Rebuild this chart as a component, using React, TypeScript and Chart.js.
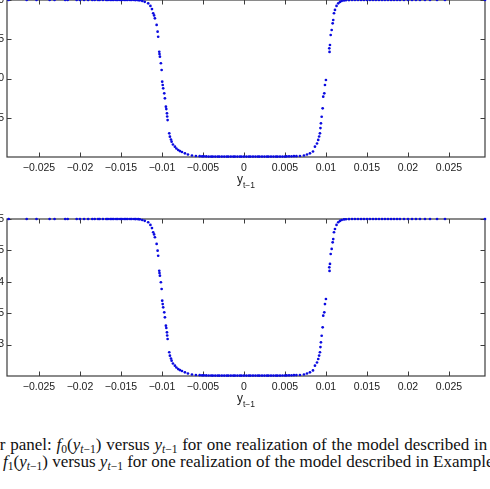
import React, { useEffect, useRef } from "react";
import { Chart, registerables } from "chart.js";

Chart.register(...registerables);

// y_{t-1} values (one realization, shared by both panels)
const yLag = [
  -0.0287, -0.0265, -0.0253, -0.0237, -0.0231, -0.0218, -0.0215, -0.0204, -0.02, -0.0195,
  -0.019, -0.0185, -0.0182, -0.0178, -0.0176, -0.0172, -0.0168, -0.0166, -0.0163, -0.0161,
  -0.0159, -0.0156, -0.0154, -0.0151, -0.0149, -0.0146, -0.0144, -0.0142, -0.0139, -0.0137,
  -0.0134, -0.0132, -0.0129, -0.0127,
  -0.0124, -0.0121, -0.01168, -0.01141, -0.01122, -0.01107, -0.01096, -0.01086, -0.01065, -0.01053,
  -0.01046, -0.01033, -0.0103, -0.01025, -0.01013, -0.01004, -0.00997, -0.00991, -0.00985, -0.00972,
  -0.00964, -0.00952, -0.00947, -0.00939, -0.00936, -0.00931, -0.00911, -0.00903, -0.0089, -0.00882,
  -0.00866, -0.00842, -0.00824, -0.00802, -0.00781, -0.00756, -0.0072, -0.00683, -0.00634, -0.00586,
  -0.0054, -0.0051, -0.0049, -0.0046, -0.0043, -0.004, -0.0038, -0.0035, -0.0032, -0.003,
  -0.0027, -0.0024, -0.0021, -0.0019, -0.0016, -0.0013, -0.0011, -0.0008, -0.0005, -0.0003,
  0.0, 0.0003, 0.0006, 0.0008, 0.0011, 0.0014, 0.0017, 0.0019, 0.0022, 0.0025,
  0.0028, 0.003, 0.0033, 0.0036, 0.0039, 0.0041, 0.0044, 0.0047, 0.005, 0.0052,
  0.0055, 0.0058, 0.0061, 0.0064,
  0.00683, 0.00732, 0.00769, 0.00805, 0.00842, 0.00866, 0.00891, 0.00906, 0.00917, 0.00927,
  0.00933, 0.00939, 0.00948, 0.0096, 0.00967, 0.0098, 0.00988, 0.01, 0.01041, 0.01044,
  0.01049, 0.01058, 0.0107, 0.01082, 0.01089, 0.01098, 0.0111, 0.01129, 0.0115, 0.01171,
  0.01192, 0.0122,
  0.01244, 0.01281, 0.01318, 0.01354, 0.01391, 0.01428, 0.01464, 0.01501, 0.01537, 0.01574,
  0.0161, 0.01647, 0.01684, 0.0172, 0.01757, 0.01794, 0.0183, 0.01867, 0.01903, 0.01952,
  0.02001, 0.0205, 0.02098, 0.02147, 0.02208, 0.02269, 0.02355, 0.02452, 0.0294,
];

// upper panel: f0(y_{t-1})
const f0Values = [
  20, 20, 20, 20, 20, 20, 20, 20, 20, 20,
  20, 20, 20, 20, 20, 20, 20, 20, 20, 20,
  20, 20, 20, 20, 20, 20, 20, 20, 20, 20,
  20, 19.99, 19.98, 19.96,
  19.87, 19.77, 19.58, 19.24, 18.85, 18.31, 18.03, 17.67, 16.82, 15.96,
  15.32, 13.41, 13.12, 12.78, 11.94, 11.08, 9.59, 9.17, 8.75, 8.11,
  7.48, 6.41, 6.11, 5.57, 5.16, 4.71, 3.02, 2.59, 2.23, 1.95,
  1.59, 1.31, 1.08, 0.89, 0.76, 0.64, 0.47, 0.32, 0.19, 0.13,
  0.1, 0.09, 0.08, 0.07, 0.06, 0.06, 0.05, 0.05, 0.05, 0.05,
  0.05, 0.05, 0.05, 0.05, 0.05, 0.05, 0.05, 0.05, 0.05, 0.05,
  0.05, 0.05, 0.05, 0.05, 0.05, 0.05, 0.05, 0.05, 0.05, 0.05,
  0.05, 0.05, 0.05, 0.05, 0.05, 0.05, 0.05, 0.06, 0.06, 0.07,
  0.08, 0.09, 0.1, 0.11,
  0.13, 0.19, 0.32, 0.47, 0.7, 1.31, 1.72, 2.17, 2.61, 3.02,
  3.69, 4.29, 5.13, 6.2, 7.68, 8.11, 9.17, 9.81, 13.85, 13.38,
  14.27, 15.54, 16.18, 17.03, 17.45, 18.31, 18.73, 19.24, 19.58, 19.75,
  19.87, 19.94,
  19.97, 19.99, 20, 20, 20, 20, 20, 20, 20, 20,
  20, 20, 20, 20, 20, 20, 20, 20, 20, 20,
  20, 20, 20, 20, 20, 20, 20, 20, 20,
];

// lower panel: f1(y_{t-1})
const f1Values = [
  0.5, 0.5, 0.5, 0.5, 0.5, 0.5, 0.5, 0.5, 0.5, 0.5,
  0.5, 0.5, 0.5, 0.5, 0.5, 0.5, 0.5, 0.5, 0.5, 0.5,
  0.5, 0.5, 0.5, 0.5, 0.5, 0.5, 0.5, 0.5, 0.5, 0.5,
  0.5, 0.4999, 0.4998, 0.4995,
  0.4984, 0.4971, 0.4948, 0.4905, 0.4856, 0.4789, 0.4754, 0.4709, 0.4603, 0.4495,
  0.4415, 0.4176, 0.414, 0.4098, 0.3993, 0.3885, 0.3699, 0.3646, 0.3594, 0.3514,
  0.3435, 0.3301, 0.3264, 0.3196, 0.3145, 0.3089, 0.2878, 0.2824, 0.2779, 0.2744,
  0.2699, 0.2664, 0.2635, 0.2611, 0.2595, 0.258, 0.2559, 0.254, 0.2524, 0.2516,
  0.2513, 0.2511, 0.251, 0.2509, 0.2508, 0.2508, 0.2506, 0.2506, 0.2506, 0.2506,
  0.2506, 0.2506, 0.2506, 0.2506, 0.2506, 0.2506, 0.2506, 0.2506, 0.2506, 0.2506,
  0.2506, 0.2506, 0.2506, 0.2506, 0.2506, 0.2506, 0.2506, 0.2506, 0.2506, 0.2506,
  0.2506, 0.2506, 0.2506, 0.2506, 0.2506, 0.2506, 0.2506, 0.2508, 0.2508, 0.2509,
  0.251, 0.2511, 0.2513, 0.2514,
  0.2516, 0.2524, 0.254, 0.2559, 0.2588, 0.2664, 0.2715, 0.2771, 0.2826, 0.2878,
  0.2961, 0.3036, 0.3141, 0.3275, 0.346, 0.3514, 0.3646, 0.3726, 0.4231, 0.4173,
  0.4284, 0.4443, 0.4523, 0.4629, 0.4681, 0.4789, 0.4841, 0.4905, 0.4948, 0.4969,
  0.4984, 0.4993,
  0.4996, 0.4999, 0.5, 0.5, 0.5, 0.5, 0.5, 0.5, 0.5, 0.5,
  0.5, 0.5, 0.5, 0.5, 0.5, 0.5, 0.5, 0.5, 0.5, 0.5,
  0.5, 0.5, 0.5, 0.5, 0.5, 0.5, 0.5, 0.5, 0.5,
];

const xTicks = [-0.025, -0.02, -0.015, -0.01, -0.005, 0, 0.005, 0.01, 0.015, 0.02, 0.025];
const xTickLabels = ["\u22120.025", "\u22120.02", "\u22120.015", "\u22120.01", "\u22120.005", "0", "0.005", "0.01", "0.015", "0.02", "0.025"];
const f0Ticks = [5, 10, 15, 20];
const f0TickLabels = ["5", "10", "15", "20"];
const f1Ticks = [0.3, 0.35, 0.4, 0.45, 0.5];
const f1TickLabels = ["0.3", "0.35", "0.4", "0.45", "0.5"];

const X_MIN = -0.0289;
const X_MAX = 0.0294;

const AXIS_COLOR = "#3c3c3c";
const TEXT_COLOR = "#222";
const DOT_COLOR = "#0a0ae0";
const TICK_FONT = "'Liberation Sans', Arial, sans-serif";

const labelFor = (ticks: number[], labels: string[]) => (v: any) => {
  const i = ticks.findIndex((t) => Math.abs(t - Number(v)) < 1e-9);
  return i >= 0 ? labels[i] : "";
};

const boxPlugin = {
  id: "matlabBox",
  beforeDatasetsDraw(chart: any) {
    const { ctx, chartArea: a, scales } = chart;
    ctx.save();
    ctx.strokeStyle = AXIS_COLOR;
    ctx.lineWidth = 1.2;
    ctx.strokeRect(a.left, a.top, a.right - a.left, a.bottom - a.top);
    const L = 4.5;
    ctx.beginPath();
    scales.x.ticks.forEach((t: any) => {
      const px = Math.round(scales.x.getPixelForValue(t.value)) + 0.5;
      ctx.moveTo(px, a.bottom);
      ctx.lineTo(px, a.bottom - L);
      ctx.moveTo(px, a.top);
      ctx.lineTo(px, a.top + L);
    });
    scales.y.ticks.forEach((t: any) => {
      const py = Math.round(scales.y.getPixelForValue(t.value)) + 0.5;
      ctx.moveTo(a.left, py);
      ctx.lineTo(a.left + L, py);
      ctx.moveTo(a.right, py);
      ctx.lineTo(a.right - L, py);
    });
    ctx.lineWidth = 1;
    ctx.stroke();
    // x-axis title: y_{t-1}
    const cx = (a.left + a.right) / 2;
    const base = a.bottom + 26;
    ctx.fillStyle = TEXT_COLOR;
    ctx.font = `12px ${TICK_FONT}`;
    const yW = ctx.measureText("y").width;
    ctx.font = `8.5px ${TICK_FONT}`;
    const sW = ctx.measureText("t\u22121").width;
    const start = cx - (yW + sW) / 2;
    ctx.textAlign = "left";
    ctx.textBaseline = "alphabetic";
    ctx.font = `12px ${TICK_FONT}`;
    ctx.fillText("y", start, base);
    ctx.font = `8.5px ${TICK_FONT}`;
    ctx.fillText("t\u22121", start + yW, base + 5);
    ctx.restore();
  },
};

function makeConfig(values: number[], yMin: number, yMax: number, yTicks: number[], yLabels: string[]) {
  return {
    type: "scatter" as const,
    data: {
      datasets: [
        {
          data: yLag.map((x, i) => ({ x, y: values[i] })),
          pointRadius: 1.35,
          pointBackgroundColor: DOT_COLOR,
          pointBorderWidth: 0,
          pointHoverRadius: 1.35,
          clip: false as any,
        },
      ],
    },
    options: {
      responsive: false,
      animation: false as const,
      devicePixelRatio: 1,
      layout: { padding: { top: 20, right: 12, left: 0, bottom: 0 } },
      plugins: { legend: { display: false }, tooltip: { enabled: false } },
      events: [],
      scales: {
        x: {
          type: "linear" as const,
          min: X_MIN,
          max: X_MAX,
          grid: { display: false, drawTicks: false },
          border: { display: false },
          ticks: {
            autoSkip: false,
            maxRotation: 0,
            padding: 5,
            color: TEXT_COLOR,
            font: { family: TICK_FONT, size: 10.5 },
            callback: labelFor(xTicks, xTickLabels),
          },
          afterBuildTicks: (s: any) => {
            s.ticks = xTicks.map((v) => ({ value: v }));
          },
          afterFit: (s: any) => {
            s.height = 40;
          },
        },
        y: {
          type: "linear" as const,
          min: yMin,
          max: yMax,
          grid: { display: false, drawTicks: false },
          border: { display: false },
          ticks: {
            autoSkip: false,
            padding: 3,
            color: TEXT_COLOR,
            font: { family: TICK_FONT, size: 10.5 },
            callback: labelFor(yTicks, yLabels),
          },
          afterBuildTicks: (s: any) => {
            s.ticks = yTicks.map((v) => ({ value: v }));
          },
          afterFit: (s: any) => {
            s.width = 40;
          },
        },
      },
    },
    plugins: [boxPlugin],
  };
}

function Panel(props: { top: number; values: number[]; yMin: number; yMax: number; yTicks: number[]; yLabels: string[] }) {
  const ref = useRef<HTMLCanvasElement | null>(null);
  useEffect(() => {
    if (!ref.current) return;
    const chart = new Chart(ref.current, makeConfig(props.values, props.yMin, props.yMax, props.yTicks, props.yLabels) as any);
    return () => chart.destroy();
  }, []);
  return (
    <canvas
      ref={ref}
      width={530}
      height={217}
      style={{ position: "absolute", left: -33, top: props.top, width: 530, height: 217 }}
    />
  );
}

const Sub = ({ children }: { children: any }) => (
  <sub style={{ fontSize: "0.68em", verticalAlign: "-0.3em", lineHeight: 0 }}>{children}</sub>
);
const YT = () => (
  <span>
    <i>y</i>
    <Sub>
      <i>t</i>&minus;1
    </Sub>
  </span>
);

const captionStyle = {
  position: "absolute" as const,
  whiteSpace: "nowrap" as const,
  fontFamily: "'Liberation Serif', 'Times New Roman', serif",
  fontSize: 17,
  lineHeight: "17px",
  color: "#111",
};

export default function App() {
  return (
    <div
      style={{
        position: "fixed",
        left: 0,
        top: 0,
        width: 490,
        height: 489,
        overflow: "hidden",
        background: "#fff",
      }}
    >
      <Panel top={-20} values={f0Values} yMin={0} yMax={20} yTicks={f0Ticks} yLabels={f0TickLabels} />
      <Panel top={199} values={f1Values} yMin={0.25} yMax={0.5} yTicks={f1Ticks} yLabels={f1TickLabels} />
      <div style={{ ...captionStyle, left: -37, top: 436, wordSpacing: "0.5px" }}>
        Upper panel: <i>f</i>
        <Sub>0</Sub>(<YT />) versus <YT /> for one realization of the model described in
      </div>
      <div style={{ ...captionStyle, left: 3, top: 453 }}>
        <i>f</i>
        <Sub>1</Sub>(<YT />) versus <YT /> for one realization of the model described in Example 2.
      </div>
    </div>
  );
}
